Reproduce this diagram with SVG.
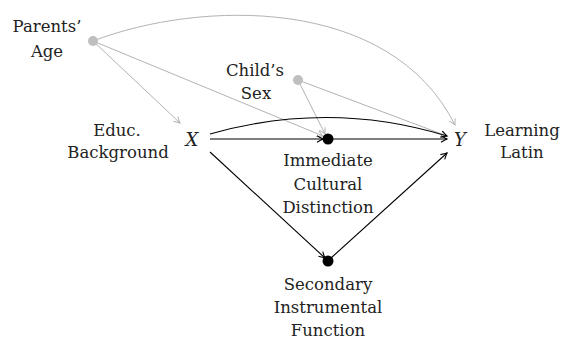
<svg xmlns="http://www.w3.org/2000/svg" width="561" height="340" viewBox="0 0 561 340">
<defs>
<style>
text{font-family:"DejaVu Serif","Liberation Serif",serif;font-size:16.5px;fill:#222;text-anchor:middle}
.v{font-style:italic;font-size:18px}
.k{stroke:#000;stroke-width:1.1;fill:none}
.g{stroke:#b3b3b3;stroke-width:1;fill:none}
</style>
<marker id="ak" viewBox="-8 -4 10 8" refX="0" refY="0" markerWidth="10" markerHeight="8" markerUnits="userSpaceOnUse" orient="auto">
<path d="M-6,-3.2 Q-2,-0.8 0,0 Q-2,0.8 -6,3.2" fill="none" stroke="#000" stroke-width="1.1"/>
</marker>
<marker id="ag" viewBox="-8 -4 10 8" refX="0" refY="0" markerWidth="10" markerHeight="8" markerUnits="userSpaceOnUse" orient="auto">
<path d="M-6,-3.2 Q-2,-0.8 0,0 Q-2,0.8 -6,3.2" fill="none" stroke="#b3b3b3" stroke-width="1"/>
</marker>
</defs>
<g id="connectors">
<path class="g" d="M93,41 L180,123" marker-end="url(#ag)"/>
<path class="g" d="M93,41 L323,136" marker-end="url(#ag)"/>
<path class="g" d="M93,41 C200,0 390,-5 455,125" marker-end="url(#ag)"/>
<path class="g" d="M298,80 L325,134" marker-end="url(#ag)"/>
<path class="g" d="M298,80 L447,136" marker-end="url(#ag)"/>
<path class="k" d="M210,139 L323,139" marker-end="url(#ak)"/>
<path class="k" d="M333,139 L447,139" marker-end="url(#ak)"/>
<path class="k" d="M210,134 Q330,100 447,136" marker-end="url(#ak)"/>
<path class="k" d="M210,152 L325,258" marker-end="url(#ak)"/>
<path class="k" d="M331,258 L447,153" marker-end="url(#ak)"/>
</g>
<g id="parents-age">
<circle cx="93" cy="41" r="5" fill="#bfbfbf"/>
<text x="47" y="32">Parents’</text>
<text x="47" y="57">Age</text>
</g>
<g id="childs-sex">
<circle cx="298" cy="80" r="5" fill="#bfbfbf"/>
<text x="255" y="76">Child’s</text>
<text x="256" y="99">Sex</text>
</g>
<g id="x">
<text class="v" x="192" y="146">X</text>
<text x="117" y="136">Educ.</text>
<text x="118" y="158">Background</text>
</g>
<g id="y">
<text class="v" x="460" y="146">Y</text>
<text x="522" y="136">Learning</text>
<text x="522" y="158">Latin</text>
</g>
<g id="immediate">
<circle cx="328" cy="139" r="5.5" fill="#000"/>
<text x="328" y="166">Immediate</text>
<text x="328" y="190">Cultural</text>
<text x="328" y="213">Distinction</text>
</g>
<g id="secondary">
<circle cx="328" cy="261" r="5.5" fill="#000"/>
<text x="328" y="290">Secondary</text>
<text x="328" y="313">Instrumental</text>
<text x="328" y="336">Function</text>
</g>
</svg>
